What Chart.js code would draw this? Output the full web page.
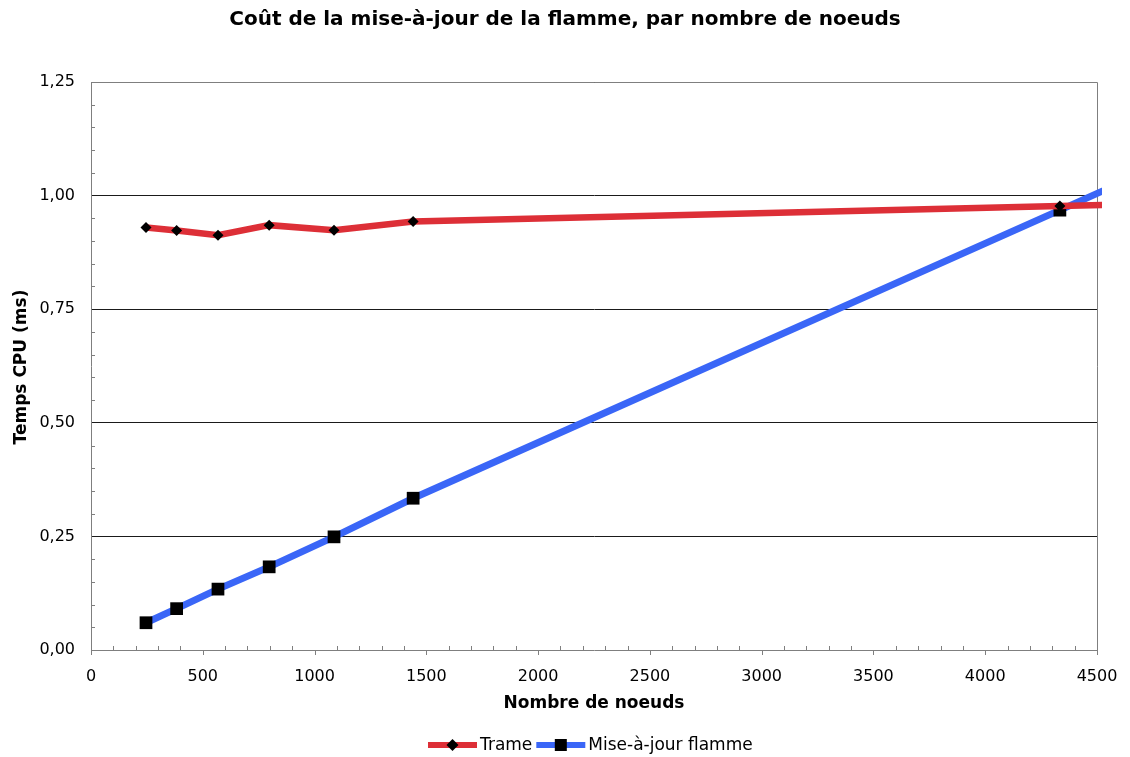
<!DOCTYPE html>
<html>
<head>
<meta charset="utf-8">
<script src="https://cdn.jsdelivr.net/npm/chart.js@4.4.1/dist/chart.umd.min.js"></script>
<style>
  html, body { margin: 0; padding: 0; background: #ffffff; }
  #wrap { width: 1130px; height: 757px; }
</style>
</head>
<body>
<div id="wrap"><canvas id="c" width="1130" height="757"></canvas></div>
<script>
// Measured CPU time per frame versus node count
const nodeCounts = [246, 383, 568, 797, 1087, 1441, 4334, 5000];
const trameMs    = [0.930, 0.923, 0.913, 0.935, 0.924, 0.943, 0.977, 0.985];
const flammeMs   = [0.060, 0.091, 0.134, 0.183, 0.249, 0.334, 0.968, 1.115];

const seriesNames = ['Trame', 'Mise-à-jour flamme'];
const xTickValues = [0, 500, 1000, 1500, 2000, 2500, 3000, 3500, 4000, 4500];
const yTickValues = [0, 0.25, 0.5, 0.75, 1.0, 1.25];

const chartTitle = 'Coût de la mise-à-jour de la flamme, par nombre de noeuds';
const xTitle = 'Nombre de noeuds';
const yTitle = 'Temps CPU (ms)';

const FONT = "'DejaVu Sans', Verdana, sans-serif";
const RED = '#dd2f37';
const BLUE = '#3a66f7';
const AXIS_GREY = '#7f7f7f';

Chart.defaults.font.family = FONT;
Chart.defaults.color = '#000';

const toPoints = (ys) => nodeCounts.map((x, i) => ({ x: x, y: ys[i] }));
const fmtComma = (v) => v.toFixed(2).replace('.', ',');

// Titles, tick marks, plot frame and legend
const decorations = {
  id: 'decorations',
  beforeDatasetsDraw(chart) {
    const { ctx, chartArea: a, scales: { x, y } } = chart;
    ctx.save();
    ctx.strokeStyle = AXIS_GREY;
    ctx.lineWidth = 1;
    // plot frame (top and right)
    ctx.beginPath();
    ctx.moveTo(a.left, a.top + 0.5);
    ctx.lineTo(a.right + 0.5, a.top + 0.5);
    ctx.lineTo(a.right + 0.5, a.bottom);
    ctx.stroke();
    // minor ticks on x (inside), major ticks (outside)
    ctx.beginPath();
    for (let v = 0; v <= 4500; v += 100) {
      const px = Math.round(x.getPixelForValue(v)) + 0.5;
      if (v % 500 === 0) {
        ctx.moveTo(px, a.bottom);
        ctx.lineTo(px, a.bottom + 5);
      } else {
        ctx.moveTo(px, a.bottom);
        ctx.lineTo(px, a.bottom - 4);
      }
    }
    // minor ticks on y (inside)
    for (let k = 1; k < 25; k++) {
      if (k % 5 === 0) continue;
      const py = Math.round(y.getPixelForValue(k * 0.05)) + 0.5;
      ctx.moveTo(a.left, py);
      ctx.lineTo(a.left + 4, py);
    }
    ctx.stroke();
    ctx.restore();
  },
  afterDraw(chart) {
    const { ctx } = chart;
    ctx.save();
    ctx.fillStyle = '#000';
    ctx.textAlign = 'center';
    ctx.textBaseline = 'middle';
    // chart title
    ctx.font = 'bold 20px ' + FONT;
    ctx.fillText(chartTitle, 565, 20);
    // axis titles
    ctx.font = 'bold 17px ' + FONT;
    ctx.fillText(xTitle, 594, 704);
    ctx.save();
    ctx.translate(22, 367);
    ctx.rotate(-Math.PI / 2);
    ctx.fillText(yTitle, 0, 0);
    ctx.restore();

    // legend: line sample with marker, then label
    ctx.font = '17px ' + FONT;
    const items = [
      { label: seriesNames[0], color: RED, marker: 'diamond' },
      { label: seriesNames[1], color: BLUE, marker: 'square' }
    ];
    const sampleW = 49, gap = 3, itemGap = 4;
    items.forEach((it) => { it.w = ctx.measureText(it.label).width; });
    let lx = 428;
    const ly = 745;
    items.forEach((it, i) => {
      if (i) lx += itemGap;
      ctx.strokeStyle = it.color;
      ctx.lineWidth = 6;
      ctx.beginPath();
      ctx.moveTo(lx, ly);
      ctx.lineTo(lx + sampleW, ly);
      ctx.stroke();
      const cx = lx + sampleW / 2;
      ctx.fillStyle = '#000';
      if (it.marker === 'diamond') {
        ctx.beginPath();
        ctx.moveTo(cx, ly - 6);
        ctx.lineTo(cx + 6, ly);
        ctx.lineTo(cx, ly + 6);
        ctx.lineTo(cx - 6, ly);
        ctx.closePath();
        ctx.fill();
      } else {
        ctx.fillRect(cx - 6, ly - 6, 12, 12);
      }
      ctx.textAlign = 'left';
      ctx.fillText(it.label, lx + sampleW + gap, ly + 1);
      lx += sampleW + gap + it.w;
    });
    ctx.restore();
  }
};

new Chart(document.getElementById('c'), {
  type: 'line',
  data: {
    datasets: [
      {
        label: seriesNames[0],
        data: toPoints(trameMs),
        borderColor: RED,
        borderWidth: 6.5,
        backgroundColor: '#000',
        pointStyle: 'rectRot',
        pointRadius: 5.5,
        pointBorderWidth: 0,
        pointBackgroundColor: '#000',
        tension: 0,
        clip: { left: 0, top: 0, right: 5, bottom: 0 }
      },
      {
        label: seriesNames[1],
        data: toPoints(flammeMs),
        borderColor: BLUE,
        borderWidth: 7,
        backgroundColor: '#000',
        pointStyle: 'rect',
        pointRadius: 9,
        pointBorderWidth: 0,
        pointBackgroundColor: '#000',
        tension: 0,
        clip: { left: 0, top: 0, right: 5, bottom: 0 }
      }
    ]
  },
  options: {
    responsive: false,
    animation: false,
    devicePixelRatio: 1,
    layout: { padding: { top: 82, right: 33, bottom: 40, left: 0 } },
    plugins: {
      legend: { display: false },
      title: { display: false },
      tooltip: { enabled: false }
    },
    scales: {
      x: {
        type: 'linear',
        min: 0,
        max: 4500,
        afterBuildTicks: (s) => { s.ticks = xTickValues.map(v => ({ value: v })); },
        ticks: { font: { size: 16 }, color: '#000', padding: 17, maxRotation: 0, callback: (v) => String(v) },
        grid: { display: true, drawOnChartArea: false, drawTicks: false },
        border: { display: true, color: AXIS_GREY, width: 1 },
        afterFit: (s) => { s.height = 67; s.paddingLeft = 0; s.paddingRight = 0; }
      },
      y: {
        type: 'linear',
        min: 0,
        max: 1.25,
        afterBuildTicks: (s) => { s.ticks = yTickValues.map(v => ({ value: v })); },
        ticks: { font: { size: 16 }, color: '#000', padding: 16, callback: (v) => fmtComma(v) },
        grid: {
          display: true,
          drawTicks: false,
          color: (c) => (c.tick && c.tick.value === 0) ? 'rgba(0,0,0,0)' : '#1a1a1a',
          lineWidth: 1
        },
        border: { display: true, color: AXIS_GREY, width: 1 },
        afterFit: (s) => { s.width = 91; s.paddingTop = 0; s.paddingBottom = 0; }
      }
    }
  },
  plugins: [decorations]
});
</script>
</body>
</html>
